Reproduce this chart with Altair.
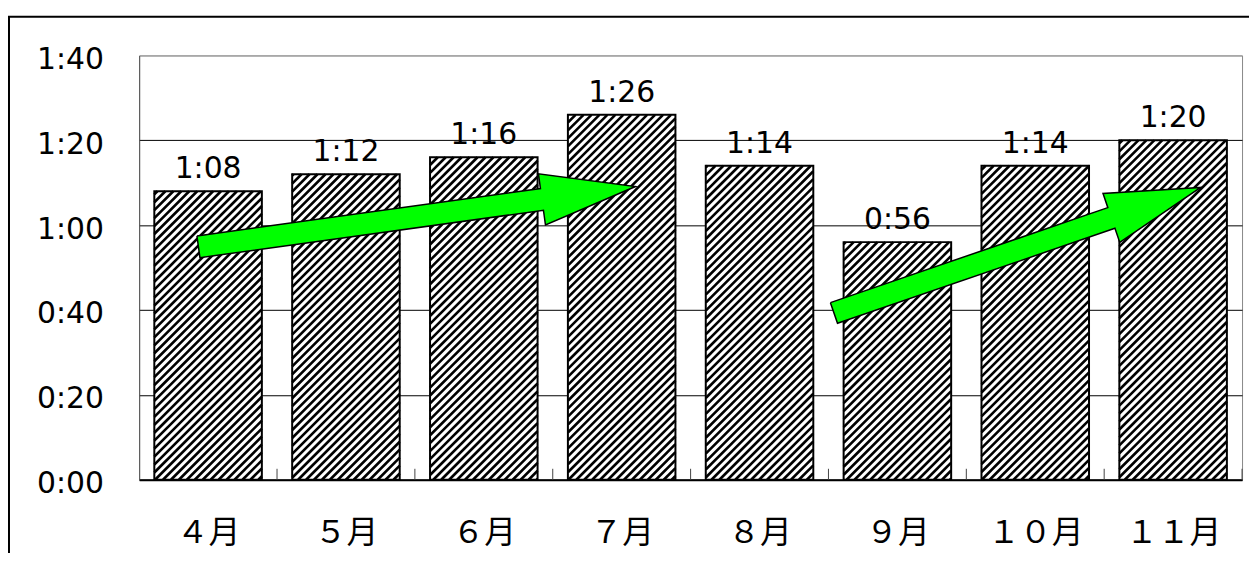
import json
import altair as alt
import pandas as pd
import numpy as np

# ---- data ----
months = ["４月", "５月", "６月", "７月", "８月", "９月", "１０月", "１１月"]
minutes = [68, 72, 76, 86, 74, 56, 74, 80]
y_ticks = [0, 20, 40, 60, 80, 100]

# trend arrows (tail/tip in data units: category index, minutes)
arrow_ids = ["A", "B"]
arrow_tail_x = [0.43, 5.04]
arrow_tail_min = [54.9, 39.3]
arrow_tip_x = [3.60, 7.70]
arrow_tip_min = [69.1, 68.9]

# ---- layout / style ----
W, H = 1110, 427
PAD = 0.11            # half of the gap between bars, in category units
SX = W / len(months)  # px per category
SY = H / 100.0        # px per minute
HATCH = 8.0           # horizontal hatch period, px
SHAFT_W, HEAD_W, HEAD_L = 22.0, 52.0, 95.0

bars = pd.DataFrame({
    "month": months,
    "y": minutes,
})
bars["i"] = range(len(months))
bars["x"] = bars["i"] + PAD
bars["x2"] = bars["i"] + 1 - PAD
bars["xc"] = bars["i"] + 0.5
bars["y2"] = 0
bars["label"] = [f"{m // 60}:{m % 60:02d}" for m in minutes]

# hatch lines "/" clipped to every bar
rows = []
for i, m in enumerate(minutes):
    left = (i + PAD) * SX
    w = (1 - 2 * PAD) * SX
    h = m * SY
    kmin = int(np.floor((left - h) / HATCH)) - 1
    kmax = int(np.ceil((left + w) / HATCH)) + 1
    for k in range(kmin, kmax + 1):
        c = k * HATCH - left
        X0 = max(c, 0.0)
        X1 = min(c + h, w)
        if X1 - X0 < 0.6:
            continue
        rows.append({"x": (left + X0) / SX, "x2": (left + X1) / SX,
                     "y": (X0 - c) / SY, "y2": (X1 - c) / SY})
hatch = pd.DataFrame(rows)

# arrow polygons
arows = []
for aid, tx, ty, px, py in zip(arrow_ids, arrow_tail_x, arrow_tail_min, arrow_tip_x, arrow_tip_min):
    T = np.array([tx * SX, ty * SY])
    P = np.array([px * SX, py * SY])
    d = P - T
    u = d / np.hypot(*d)
    n = np.array([-u[1], u[0]])
    B = P - u * HEAD_L
    pts = [T + n * SHAFT_W / 2, B + n * SHAFT_W / 2, B + n * HEAD_W / 2, P,
           B - n * HEAD_W / 2, B - n * SHAFT_W / 2, T - n * SHAFT_W / 2, T + n * SHAFT_W / 2]
    for k, p in enumerate(pts):
        arows.append({"arrow": aid, "k": k, "x": p[0] / SX, "y": p[1] / SY})
arrows = pd.DataFrame(arows)

ticks = pd.DataFrame({"x": list(range(1, len(months) + 1)), "y": 0})
frame = pd.DataFrame({"f": [0]})

xscale = alt.Scale(domain=[0, len(months)], nice=False, zero=False)
yscale = alt.Scale(domain=[0, 100], nice=False)

month_arr = json.dumps(months, ensure_ascii=False)
xaxis = alt.Axis(
    values=[i + 0.5 for i in range(len(months))],
    labelExpr=f"{month_arr}[floor(datum.value)]",
    ticks=False, tickSize=0, grid=False, title=None,
    domainColor="black", domainWidth=2,
    labelFont="Noto Sans CJK JP", labelFontSize=32, labelColor="black",
    labelBaseline="middle", labelPadding=53,
)
yaxis = alt.Axis(
    values=y_ticks,
    labelExpr="floor(datum.value / 60) + ':' + (datum.value % 60 < 10 ? '0' : '') + (datum.value % 60)",
    ticks=False, tickSize=0, title=None,
    domainColor="#555", domainWidth=1,
    grid=True, gridWidth=1,
    gridColor={"condition": {"test": "datum.value >= 100", "value": "#999"}, "value": "black"},
    labelFont="DejaVu Sans", labelFontSize=30, labelColor="black",
    labelPadding=36, labelOffset=4,
)

X = lambda f: alt.X(f, type="quantitative", scale=xscale, axis=xaxis)
Y = lambda f: alt.Y(f, type="quantitative", scale=yscale, axis=yaxis)

base_fill = alt.Chart(bars).mark_rect(fill="white").encode(
    x=X("x"), x2="x2", y=Y("y"), y2="y2")

hatch_layer = alt.Chart(hatch).mark_rule(color="black", strokeWidth=2.6, strokeCap="butt").encode(
    x=X("x"), x2="x2", y=Y("y"), y2="y2")

outline = alt.Chart(bars).mark_rect(fillOpacity=0, stroke="black", strokeWidth=2).encode(
    x=X("x"), x2="x2", y=Y("y"), y2="y2")

labels = alt.Chart(bars).mark_text(
    font="DejaVu Sans", fontSize=30, color="black", baseline="alphabetic", align="center", dy=-13
).encode(x=X("xc"), y=Y("y"), text="label:N")

tick_layer = alt.Chart(ticks).mark_rule(color="#444", strokeWidth=1).encode(
    x=X("x"), y=Y("y"), y2=alt.value(H - 11))

arrow_layer = alt.Chart(arrows).mark_line(
    fill="#00ff00", stroke="black", strokeWidth=1.5, strokeJoin="miter"
).encode(x=X("x"), y=Y("y"), order="k:Q", detail="arrow:N")

frame_layer = alt.Chart(frame).mark_rect(fillOpacity=0, stroke="black", strokeWidth=2).encode(
    x=alt.value(-131), x2=alt.value(W + 300), y=alt.value(-39), y2=alt.value(H + 300))

chart = alt.layer(
    base_fill, hatch_layer, outline, tick_layer, labels, arrow_layer, frame_layer
).properties(
    width=W, height=H,
    autosize=alt.AutoSizeParams(type="none"),
    padding={"left": 132, "top": 46, "right": 7, "bottom": 72},
    background="white",
).configure_view(stroke="#888", strokeWidth=1)

chart.save("out.html", embed_options={"renderer": "svg", "actions": False})
